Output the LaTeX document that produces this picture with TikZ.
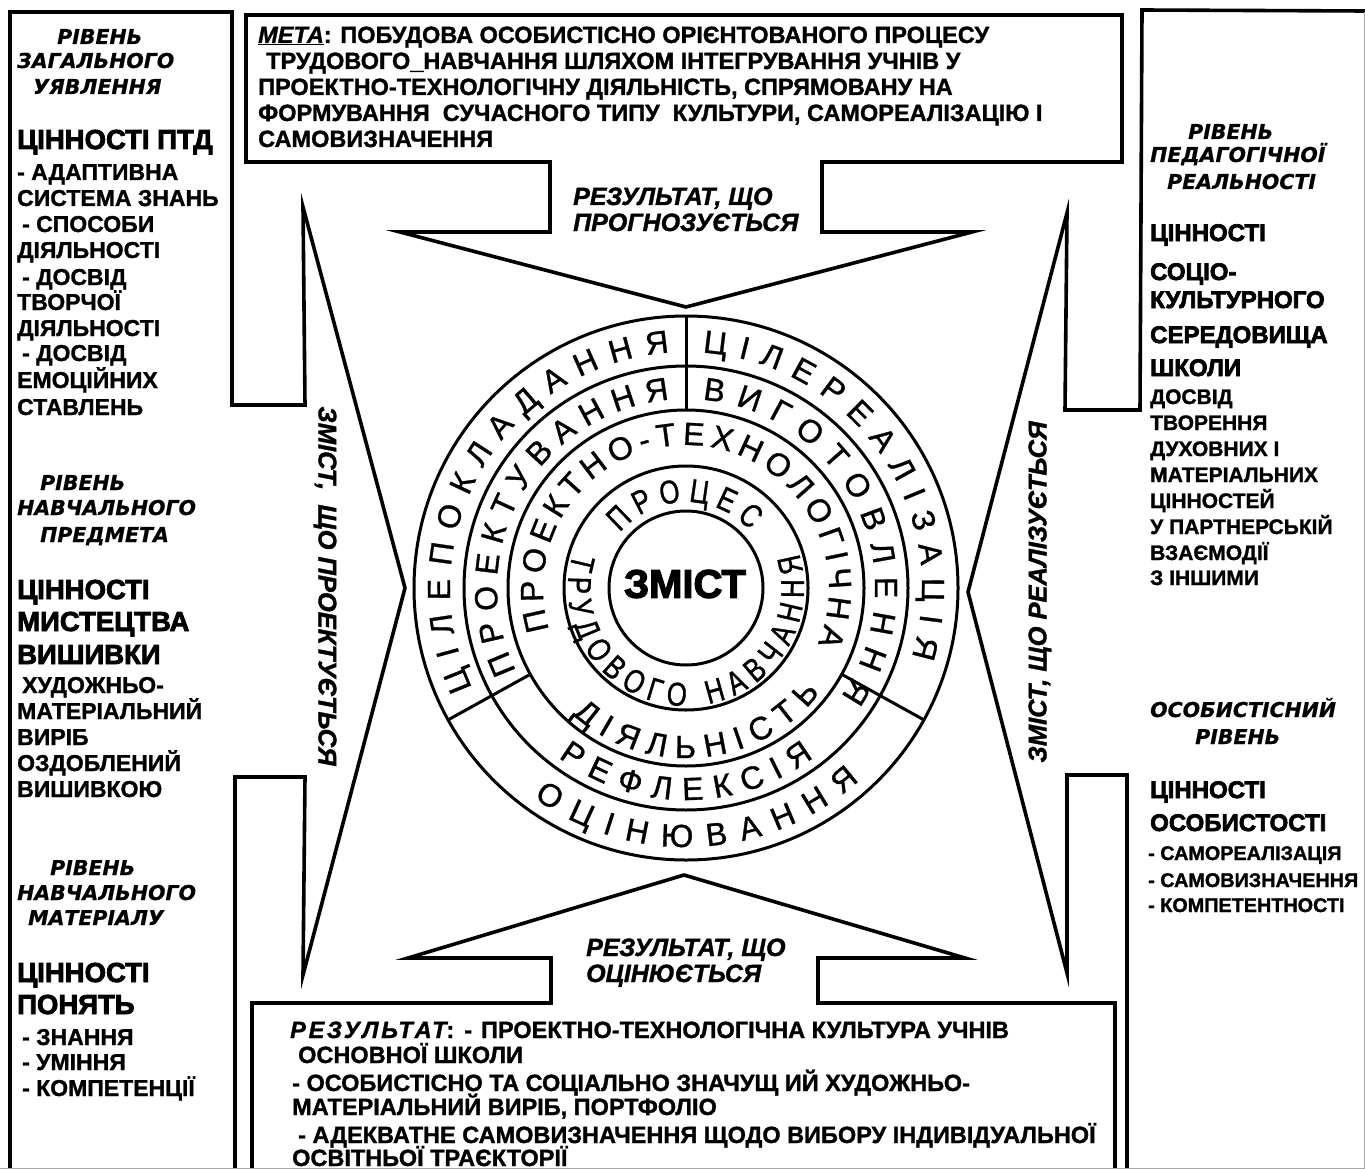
\documentclass[tikz,border=0pt]{standalone}
\usepackage{fontspec}
\setmainfont{Liberation Sans}[BoldFont={Liberation Sans Bold}, BoldItalicFont={Liberation Sans Bold Italic}, BoldFeatures={FakeBold=1.3}, BoldItalicFeatures={FakeBold=1.3}]
\newfontfamily\fLvl{DejaVu Sans}[BoldItalicFont={DejaVu Sans Bold Oblique}, BoldItalicFeatures={FakeBold=0.6}]
\newfontfamily\fHeavy{Liberation Sans}[BoldFont={Liberation Sans Bold}, BoldFeatures={FakeBold=3}]
\newfontfamily\fRing{Liberation Sans}[FakeBold=1]
\newfontfamily\fRingN{Liberation Sans}[FakeStretch=0.78, FakeBold=1]
\usetikzlibrary{decorations.text}
\tikzset{
  outline/.style={line width=3.6pt, line join=miter, draw=black},
  ringline/.style={line width=3pt, draw=black},
  lvl/.style={font=\fLvl\bfseries\itshape\fontsize{20.5}{22}\selectfont, anchor=base west, inner sep=0pt},
  body/.style={font=\bfseries\fontsize{23}{25}\selectfont, anchor=base west, inner sep=0pt},
  bodyR/.style={font=\bfseries\fontsize{21}{24}\selectfont, anchor=base west, inner sep=0pt},
  bodyRs/.style={font=\bfseries\fontsize{19.8}{24}\selectfont, anchor=base west, inner sep=0pt},
  headL/.style={font=\fHeavy\bfseries\fontsize{27.5}{29}\selectfont, anchor=base west, inner sep=0pt},
  headR/.style={font=\fHeavy\bfseries\fontsize{24}{26}\selectfont, anchor=base west, inner sep=0pt},
  goal/.style={font=\bfseries\fontsize{23.5}{25}\selectfont, anchor=base west, inner sep=0pt},
  arrowlbl/.style={font=\bfseries\itshape\fontsize{25}{28}\selectfont, anchor=base west, inner sep=0pt},
  sidelbl/.style={font=\bfseries\itshape\fontsize{25.5}{28}\selectfont, inner sep=0pt},
  ringtxt/.style={decorate, decoration={text along path, text align={fit to path}, text color=black, text={#1}}}
}
\begin{document}
\begin{tikzpicture}[x=1pt,y=-1pt]
\useasboundingbox (0,0) rectangle (1365,1169);
\fill[white] (0,0) rectangle (1365,1169);

% ---------- frames ----------
\draw[outline] (10,1169) -- (10,12) -- (232,12) -- (232,405) -- (305,405) -- (303,207) -- (405,588) -- (303,975) -- (305,777) -- (235,777) -- (235,1169);
\draw[outline] (1365,11) -- (1142,10) -- (1140,410) -- (1065,410) -- (1067,213) -- (968,592) -- (1067,973) -- (1067,775) -- (1127,775) -- (1127,1169);
\draw[outline] (246,15) -- (1122,15) -- (1122,162) -- (822,162) -- (822,232) -- (972,232) -- (686,307) -- (400,232) -- (550,232) -- (550,162) -- (246,162) -- cycle;
\draw[outline] (252,1169) -- (252,1003) -- (551,1003) -- (551,958) -- (408,958) -- (684,875) -- (965,958) -- (818,958) -- (818,1003) -- (1115,1003) -- (1115,1169);
\draw[gray!70, line width=1.2pt] (0,1168.4) -- (1364.4,1168.4) -- (1364.4,12);

% ---------- circle ----------
\begin{scope}[shift={(686,588)}, y=1pt]
  \foreach \r in {272,222,178,122,77} \draw[ringline] (0,0) circle[radius=\r];
  \draw[ringline] (90:178) -- (90:272);
  \draw[ringline] (209:178) -- (209:272);
  \draw[ringline] (331:178) -- (331:272);
  \path[ringtxt={|\fRing\fontsize{32}{32}\selectfont|ЦІЛЕПОКЛАДАННЯ}] (205:236) arc[start angle=205, end angle=94, radius=236];
  \path[ringtxt={|\fRing\fontsize{32}{32}\selectfont|ЦІЛЕРЕАЛІЗАЦІЯ}] (86:236) arc[start angle=86, end angle=-17, radius=236];
  \path[ringtxt={|\fRing\fontsize{32}{32}\selectfont|ОЦІНЮВАННЯ}] (234:259) arc[start angle=234, end angle=312, radius=259];
  \path[ringtxt={|\fRing\fontsize{32}{32}\selectfont|ПРОЕКТУВАННЯ}] (206:189) arc[start angle=206, end angle=95, radius=189];
  \path[ringtxt={|\fRing\fontsize{32}{32}\selectfont|ВИГОТОВЛЕННЯ}] (85:189) arc[start angle=85, end angle=-35, radius=189];
  \path[ringtxt={|\fRing\fontsize{32}{32}\selectfont|РЕФЛЕКСІЯ}] (233:212) arc[start angle=233, end angle=307, radius=212];
  \path[ringtxt={|\fRing\fontsize{32}{32}\selectfont|ПРОЕКТНО-ТЕХНОЛОГІЧНА}] (197:143) arc[start angle=197, end angle=-23, radius=143];
  \path[ringtxt={|\fRing\fontsize{32}{32}\selectfont|ДІЯЛЬНІСТЬ}] (228:170) arc[start angle=228, end angle=322, radius=170];
  \path[ringtxt={|\fRingN\fontsize{33}{33}\selectfont|ПРОЦЕС}] (140:86) arc[start angle=140, end angle=42, radius=86];
  \path[ringtxt={|\fRingN\fontsize{33}{33}\selectfont|ТРУДОВОГО НАВЧАННЯ}] (163:118) arc[start angle=163, end angle=377, radius=118];
\end{scope}
\node[font=\fHeavy\bfseries\fontsize{40}{40}\selectfont, inner sep=0pt] (zmist) at (685,584) {ЗМІСТ};

% ---------- goal box ----------
\node[goal] (goal1) at (258,43) {\underline{\itshape МЕТА}: ПОБУДОВА ОСОБИСТІСНО ОРІЄНТОВАНОГО ПРОЦЕСУ};
\node[goal] (goal2) at (266,69) {ТРУДОВОГО\_НАВЧАННЯ ШЛЯХОМ ІНТЕГРУВАННЯ УЧНІВ У};
\node[goal] (goal3) at (258,95) {ПРОЕКТНО-ТЕХНОЛОГІЧНУ ДІЯЛЬНІСТЬ, СПРЯМОВАНУ НА};
\node[goal] (goal4) at (258,121) {ФОРМУВАННЯ\ \ СУЧАСНОГО ТИПУ\ \ КУЛЬТУРИ, САМОРЕАЛІЗАЦІЮ І};
\node[goal] (goal5) at (258,147) {САМОВИЗНАЧЕННЯ};

% ---------- result box ----------
\node[goal] (res1) at (290,1038) {{\itshape\addfontfeature{LetterSpace=12}РЕЗУЛЬТАТ}:\hspace{10pt}-\hspace{9pt}ПРОЕКТНО-ТЕХНОЛОГІЧНА КУЛЬТУРА УЧНІВ};
\node[goal] (res2) at (298,1063) {ОСНОВНОЇ ШКОЛИ};
\node[goal] (res3) at (292,1091) {- ОСОБИСТІСНО ТА СОЦІАЛЬНО ЗНАЧУЩ ИЙ ХУДОЖНЬО-};
\node[goal] (res4) at (292,1115) {МАТЕРІАЛЬНИЙ ВИРІБ, ПОРТФОЛІО};
\node[goal] (res5) at (298,1143) {- АДЕКВАТНЕ САМОВИЗНАЧЕННЯ ЩОДО ВИБОРУ ІНДИВІДУАЛЬНОЇ};
\node[goal] (res6) at (292,1166) {ОСВІТНЬОЇ ТРАЄКТОРІЇ};

% ---------- arrow labels ----------
\node[arrowlbl] (prog1) at (573,205) {РЕЗУЛЬТАТ, ЩО};
\node[arrowlbl] (prog2) at (573,231) {ПРОГНОЗУЄТЬСЯ};
\node[arrowlbl] (ocin1) at (586,956) {РЕЗУЛЬТАТ, ЩО};
\node[arrowlbl] (ocin2) at (586,982) {ОЦІНЮЄТЬСЯ};
\node[sidelbl, rotate=-90] (proj) at (325,586) {ЗМІСТ,\ \ ЩО ПРОЕКТУЄТЬСЯ};
\node[sidelbl, rotate=90] (real) at (1040,592) {ЗМІСТ, ЩО РЕАЛІЗУЄТЬСЯ};

% ---------- left column ----------
\foreach \x/\y/\t [count=\i] in {57/44/РІВЕНЬ, 17/68/ЗАГАЛЬНОГО, 33/94/УЯВЛЕННЯ,
   40/490/РІВЕНЬ, 17/515/НАВЧАЛЬНОГО, 40/542/ПРЕДМЕТА,
   50/875/РІВЕНЬ, 17/900/НАВЧАЛЬНОГО, 28/925/МАТЕРІАЛУ}
  \node[lvl] (lvlL\i) at (\x,\y) {\t};
\foreach \y/\t [count=\i] in {149/ЦІННОСТІ ПТД, 599/ЦІННОСТІ, 631/МИСТЕЦТВА, 664/ВИШИВКИ, 982/ЦІННОСТІ, 1014/ПОНЯТЬ}
  \node[headL] (headL\i) at (17,\y) {\t};
\foreach \x/\y/\t [count=\i] in {17/180/- АДАПТИВНА, 17/206/СИСТЕМА ЗНАНЬ, 22/232/- СПОСОБИ, 17/258/ДІЯЛЬНОСТІ,
   22/285/- ДОСВІД, 17/310/ТВОРЧОЇ, 17/336/ДІЯЛЬНОСТІ, 22/361/- ДОСВІД, 17/388/ЕМОЦІЙНИХ, 17/415/СТАВЛЕНЬ,
   22/693/ХУДОЖНЬО-, 17/719/МАТЕРІАЛЬНИЙ, 17/745/ВИРІБ, 17/771/ОЗДОБЛЕНИЙ, 17/797/ВИШИВКОЮ,
   22/1045/- ЗНАННЯ, 22/1070/- УМІННЯ, 22/1096/- КОМПЕТЕНЦІЇ}
  \node[body] (bodyL\i) at (\x,\y) {\t};

% ---------- right column ----------
\foreach \x/\y/\t [count=\i] in {1188/139/РІВЕНЬ, 1150/162/ПЕДАГОГІЧНОЇ, 1167/189/РЕАЛЬНОСТІ,
   1150/717/ОСОБИСТІСНИЙ, 1195/744/РІВЕНЬ}
  \node[lvl] (lvlR\i) at (\x,\y) {\t};
\foreach \y/\t [count=\i] in {241/ЦІННОСТІ, 280/СОЦІО-, 308/КУЛЬТУРНОГО, 343/СЕРЕДОВИЩА, 376/ШКОЛИ, 798/ЦІННОСТІ, 831/ОСОБИСТОСТІ}
  \node[headR] (headR\i) at (1150,\y) {\t};
\foreach \y/\t [count=\i] in {404/ДОСВІД, 430/ТВОРЕННЯ, 456/ДУХОВНИХ І, 482/МАТЕРІАЛЬНИХ, 508/ЦІННОСТЕЙ,
   534/У ПАРТНЕРСЬКІЙ, 560/ВЗАЄМОДІЇ, 585/З ІНШИМИ}
  \node[bodyR] (bodyR\i) at (1150,\y) {\t};
\foreach \y/\t [count=\i] in {860/- САМОРЕАЛІЗАЦІЯ, 887/- САМОВИЗНАЧЕННЯ, 912/- КОМПЕТЕНТНОСТІ}
  \node[bodyRs] (bodyRs\i) at (1148,\y) {\t};
\end{tikzpicture}
\end{document}
